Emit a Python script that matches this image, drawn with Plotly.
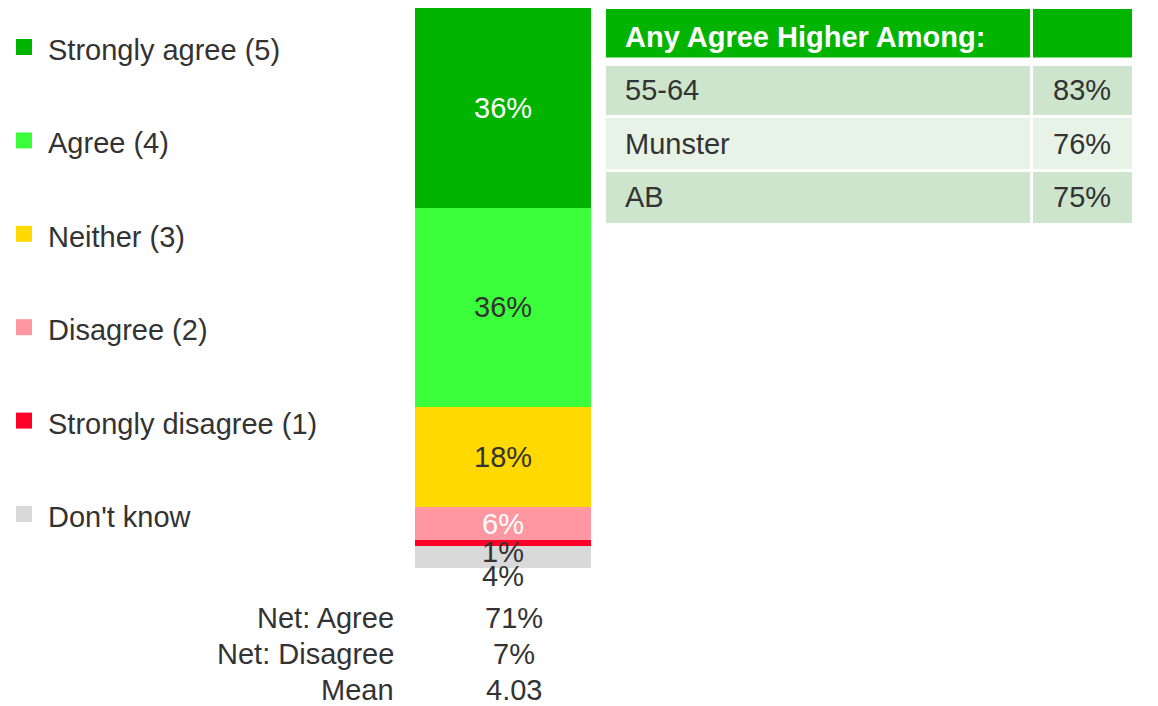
import plotly.graph_objects as go

W, H = 1158, 706
OFF = 8  # page body margin offset

# ---- data ----
categories = ["Don't know", "Strongly disagree (1)", "Disagree (2)", "Neither (3)", "Agree (4)", "Strongly agree (5)"]
values = [4, 1, 6, 18, 36, 36]
colors = ["#D9D9D9", "#FF0029", "#FF97A2", "#FFD900", "#3CFF3C", "#00B400"]
label_colors = ["#333333", "#333333", "#FFFFFF", "#333333", "#333333", "#FFFFFF"]
label_shift_px = [-19, -9, 0, 0, 0, 0]

legend_order = ["Strongly agree (5)", "Agree (4)", "Neither (3)", "Disagree (2)", "Strongly disagree (1)", "Don't know"]

net_labels = ["Net: Agree", "Net: Disagree", "Mean"]
net_values = ["71%", "7%", "4.03"]

table_header = ["Any Agree Higher Among:", ""]
table_groups = ["55-64", "Munster", "AB"]
table_values = ["83%", "76%", "75%"]

FONT = "Liberation Sans, Arial, sans-serif"
TXT = "#333333"
FS = 29


def px(x):
    return min(max((x - OFF) / W, 0), 1)


def py(y):
    return min(max(1 - (y - OFF) / H, 0), 1)


fig = go.Figure()
for cat, v, c in zip(categories, values, colors):
    fig.add_trace(go.Bar(x=[0], y=[v], name=cat, marker=dict(color=c, line=dict(width=0)),
                         width=1, showlegend=False, hoverinfo="skip"))

annotations = []
shapes = []

# bar value labels
cum = 0
for v, lc, sh in zip(values, label_colors, label_shift_px):
    annotations.append(dict(x=0, y=cum + v / 2, xref="x", yref="y", text=f"{v}%", showarrow=False,
                            yshift=sh, font=dict(family=FONT, size=FS, color=lc)))
    cum += v

# legend
col_map = dict(zip(categories, colors))
for i, name in enumerate(legend_order):
    yc = 50 + i * 93.4
    shapes.append(dict(type="rect", xref="paper", yref="paper", x0=px(16), x1=px(32),
                       y0=py(yc + 5), y1=py(yc - 11), fillcolor=col_map[name], line=dict(width=0)))
    annotations.append(dict(x=px(46), y=py(yc), xref="paper", yref="paper", text=name, showarrow=False,
                            xanchor="left", yanchor="middle", font=dict(family=FONT, size=FS, color=TXT)))

# net rows
for i, (lab, val) in enumerate(zip(net_labels, net_values)):
    yc = 618 + i * 36
    annotations.append(dict(x=px(396), y=py(yc), xref="paper", yref="paper", text=lab, showarrow=False,
                            xanchor="right", yanchor="middle", font=dict(family=FONT, size=FS, color=TXT)))
    annotations.append(dict(x=px(514), y=py(yc), xref="paper", yref="paper", text=val, showarrow=False,
                            xanchor="center", yanchor="middle", font=dict(family=FONT, size=FS, color=TXT)))

# table
c1 = (606, 1030)
c2 = (1033, 1132)
hdr = (9, 57.5)
for (a, b) in (c1, c2):
    shapes.append(dict(type="rect", xref="paper", yref="paper", x0=px(a), x1=px(b),
                       y0=py(hdr[1]), y1=py(hdr[0]), fillcolor="#00B400", line=dict(width=0)))
annotations.append(dict(x=px(623), y=py((hdr[0] + hdr[1]) / 2), xref="paper", yref="paper",
                        text="<b>" + table_header[0] + "</b>", showarrow=False, xanchor="left", yanchor="middle",
                        yshift=-4, font=dict(family=FONT, size=FS, color="#FFFFFF")))
rows = [(66, 115), (118, 169), (172, 223)]
row_fill = ["#CCE5CC", "#E8F3E8", "#CCE5CC"]
for (r0, r1), f, g, v in zip(rows, row_fill, table_groups, table_values):
    for (a, b) in (c1, c2):
        shapes.append(dict(type="rect", xref="paper", yref="paper", x0=px(a), x1=px(b),
                           y0=py(r1), y1=py(r0), fillcolor=f, line=dict(width=0)))
    annotations.append(dict(x=px(623), y=py((r0 + r1) / 2), xref="paper", yref="paper", text=g,
                            showarrow=False, xanchor="left", yanchor="middle",
                            font=dict(family=FONT, size=FS, color=TXT)))
    annotations.append(dict(x=px(1113), y=py((r0 + r1) / 2), xref="paper", yref="paper", text=v,
                            showarrow=False, xanchor="right", yanchor="middle",
                            font=dict(family=FONT, size=FS, color=TXT)))

fig.update_layout(
    width=W, height=H, barmode="stack", bargap=0,
    margin=dict(l=0, r=0, t=0, b=0),
    paper_bgcolor="white", plot_bgcolor="white",
    xaxis=dict(domain=[px(415), px(591)], range=[-0.5, 0.5], visible=False, fixedrange=True),
    yaxis=dict(domain=[py(568), py(8)], range=[0, sum(values)], visible=False, fixedrange=True),
    annotations=annotations, shapes=shapes,
)

fig.write_html("out.html")
